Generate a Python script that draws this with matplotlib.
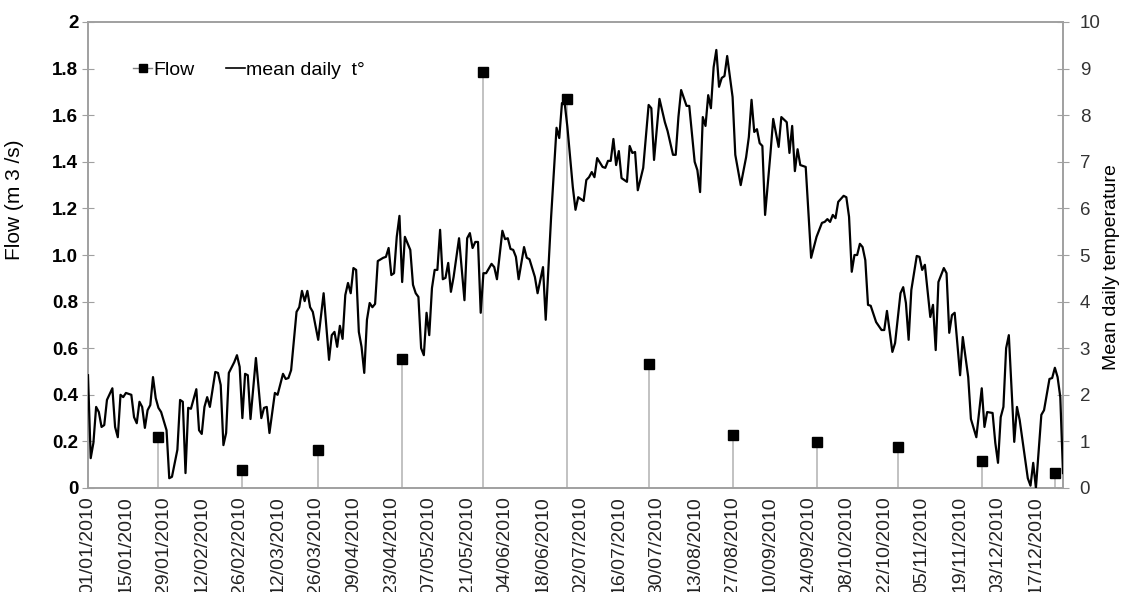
import matplotlib
matplotlib.use("Agg")
import matplotlib.pyplot as plt
from matplotlib.lines import Line2D
import pandas as pd

plt.rcParams['font.family'] = ['Liberation Sans', 'DejaVu Sans']

# ---------------- data ----------------
start_date = "01/01/2010"
end_date = "27/12/2010"

flow_dates = ["27/01/2010", "27/02/2010", "27/03/2010", "27/04/2010", "27/05/2010",
              "27/06/2010", "27/07/2010", "27/08/2010", "27/09/2010", "27/10/2010",
              "27/11/2010", "24/12/2010"]
flow_values = [0.22, 0.077, 0.163, 0.555, 1.785, 1.67, 0.533, 0.228, 0.198, 0.176,
               0.116, 0.065]

# day offset from 01/01/2010 and mean daily temperature (°C)
temp_day = [0, 1, 2, 3, 4, 5, 6, 7, 9, 10, 11, 12, 13, 14, 16, 17, 18, 19, 20, 21,
            22, 23, 24, 25, 26, 27, 29, 30, 31, 33, 34, 35, 36, 37, 38, 40, 41, 42,
            43, 44, 45, 47, 48, 49, 50, 51, 52, 54, 55, 56, 57, 58, 59, 60, 62, 64,
            65, 66, 67, 69, 70, 72, 73, 74, 75, 77, 78, 79, 80, 81, 82, 83, 85, 87,
            89, 90, 91, 92, 93, 94, 95, 96, 97, 98, 99, 100, 101, 102, 103, 104, 105,
            106, 107, 109, 110, 111, 112, 113, 114, 115, 116, 117, 119, 120, 121,
            122, 123, 124, 125, 126, 127, 128, 129, 130, 131, 132, 133, 134, 135,
            137, 139, 140, 141, 142, 143, 144, 145, 146, 147, 149, 150, 151, 153,
            154, 155, 156, 157, 158, 159, 161, 162, 163, 165, 166, 168, 169, 171,
            173, 174, 175, 176, 177, 179, 180, 181, 183, 184, 185, 186, 187, 188,
            190, 191, 192, 193, 194, 195, 196, 197, 199, 200, 201, 202, 203, 205,
            207, 208, 209, 211, 213, 214, 216, 217, 218, 219, 221, 222, 224, 225,
            226, 227, 228, 229, 230, 231, 232, 233, 234, 235, 236, 238, 239, 241,
            243, 244, 245, 246, 247, 248, 249, 250, 252, 253, 255, 256, 258, 259,
            260, 261, 262, 263, 265, 267, 269, 271, 272, 273, 274, 275, 276, 277,
            279, 280, 281, 282, 283, 284, 285, 286, 287, 288, 289, 291, 293, 294, 295,
            297, 298, 300, 301, 302, 303, 304, 306, 307, 308, 309, 311, 312, 313,
            314, 316, 317, 318, 319, 320, 322, 323, 325, 326, 328, 330, 331, 332,
            334, 335, 336, 337, 338, 339, 340, 342, 343, 344, 347, 348, 349, 350,
            352, 353, 355, 356, 357, 358, 359, 360]
temp_value = [2.42, 0.64, 0.97, 1.74, 1.63, 1.31, 1.35, 1.89, 2.14, 1.31, 1.09, 2.0,
              1.95, 2.04, 2.0, 1.52, 1.39, 1.85, 1.74, 1.29, 1.67, 1.78, 2.38, 1.93,
              1.72, 1.63, 1.24, 0.21, 0.24, 0.82, 1.89, 1.85, 0.32, 1.72, 1.70, 2.12,
              1.24, 1.16, 1.74, 1.95, 1.74, 2.49, 2.47, 2.21, 0.92, 1.18, 2.47, 2.70,
              2.85, 2.60, 1.50, 2.45, 2.42, 1.48, 2.79, 1.50, 1.72, 1.74, 1.18, 2.04,
              2.0, 2.45, 2.34, 2.36, 2.53, 3.78, 3.88, 4.23, 4.01, 4.23, 3.88, 3.78,
              3.18, 4.18, 2.75, 3.28, 3.35, 3.03, 3.48, 3.20, 4.14, 4.40, 4.18, 4.72,
              4.68, 3.35, 3.03, 2.47, 3.61, 3.97, 3.88, 3.95, 4.87, 4.94, 4.96, 5.15,
              4.57, 4.61, 5.39, 5.84, 4.42, 5.39, 5.11, 4.36, 4.18, 4.10, 3.00, 2.85,
              3.76, 3.28, 4.29, 4.68, 4.68, 5.54, 4.48, 4.51, 4.83, 4.21, 4.53, 5.36,
              4.03, 5.36, 5.47, 5.15, 5.28, 5.28, 3.76, 4.61, 4.61, 4.81, 4.74, 4.48,
              5.52, 5.34, 5.36, 5.13, 5.11, 4.96, 4.48, 5.17, 4.94, 4.91, 4.53, 4.18,
              4.74, 3.61, 5.82, 7.73, 7.51, 8.26, 8.26, 7.75, 6.46, 5.97, 6.24, 6.16,
              6.61, 6.67, 6.78, 6.67, 7.08, 6.89, 6.87, 7.02, 7.02, 7.49, 6.93, 7.23,
              6.65, 6.57, 7.34, 7.19, 7.21, 6.39, 6.87, 8.22, 8.15, 7.04, 8.35, 7.85,
              7.66, 7.15, 7.15, 7.96, 8.54, 8.20, 8.20, 7.00, 6.82, 6.35, 7.96, 7.77,
              8.43, 8.15, 9.03, 9.40, 8.61, 8.80, 8.84, 9.27, 8.39, 7.15, 6.50, 7.10,
              7.53, 8.33, 7.64, 7.70, 7.40, 7.34, 5.86, 7.19, 7.92, 7.32, 7.96, 7.85,
              7.19, 7.77, 6.80, 7.27, 6.93, 6.89, 4.94, 5.39, 5.69, 5.71, 5.77, 5.71,
              5.86, 5.79, 6.14, 6.27, 6.24, 5.82, 4.64, 5.00, 5.00, 5.24, 5.17, 4.89,
              3.93, 3.91, 3.56, 3.39, 3.39, 3.80, 2.92, 3.11, 4.18, 4.31, 3.97, 3.18,
              4.25, 4.98, 4.96, 4.68, 4.79, 3.67, 3.93, 2.96, 4.42, 4.72, 4.61, 3.33,
              3.71, 3.76, 2.42, 3.24, 2.38, 1.48, 1.09, 2.14, 1.31, 1.63, 1.61, 0.97,
              0.54, 1.52, 1.74, 3.00, 3.28, 0.99, 1.74, 1.46, 0.21, 0.05, 0.54, 0.0,
              1.57, 1.67, 2.34, 2.36, 2.58, 2.38, 1.95, 0.32]

x_tick_labels = ["01/01/2010", "15/01/2010", "29/01/2010", "12/02/2010", "26/02/2010",
                 "12/03/2010", "26/03/2010", "09/04/2010", "23/04/2010", "07/05/2010",
                 "21/05/2010", "04/06/2010", "18/06/2010", "02/07/2010", "16/07/2010",
                 "30/07/2010", "13/08/2010", "27/08/2010", "10/09/2010", "24/09/2010",
                 "08/10/2010", "22/10/2010", "05/11/2010", "19/11/2010", "03/12/2010",
                 "17/12/2010"]
flow_ticks = [0, 0.2, 0.4, 0.6, 0.8, 1.0, 1.2, 1.4, 1.6, 1.8, 2]
flow_tick_labels = ["0", "0.2", "0.4", "0.6", "0.8", "1.0", "1.2", "1.4", "1.6", "1.8", "2"]
temp_ticks = [0, 1, 2, 3, 4, 5, 6, 7, 8, 9, 10]

# ---------------- helpers ----------------
t0 = pd.to_datetime(start_date, dayfirst=True)


def day_of(s):
    return (pd.to_datetime(s, dayfirst=True) - t0).days


flow_x = [day_of(d) for d in flow_dates]
xtick_pos = [day_of(d) for d in x_tick_labels]
x_end = day_of(end_date)

# ---------------- figure ----------------
W, H = 1123, 592
fig = plt.figure(figsize=(W / 100, H / 100), dpi=100)
ax = fig.add_axes([88 / W, 1 - 488 / H, (1063 - 88) / W, (488 - 22) / H])
ax2 = ax.twinx()

spine_col = "#a0a0a0"
fs = 13.5

# flow (left axis)
ax.vlines(flow_x, 0, flow_values, color="#bdbdbd", lw=1.3, zorder=2)
ax.plot(flow_x, flow_values, ls="none", marker="s", ms=6.5, color="black", zorder=3)
ax.set_ylim(0, 2)
ax.set_xlim(0, x_end)
ax.set_yticks(flow_ticks)
ax.set_yticklabels(flow_tick_labels, fontsize=fs, fontweight="bold")
ax.set_xticks(xtick_pos)
ax.set_xticklabels(x_tick_labels, rotation=90, fontsize=14, color="#222222")
ax.tick_params(axis="x", length=0, pad=6)
ax.tick_params(axis="y", direction="inout", length=8, color=spine_col, pad=3)

# temperature (right axis)
ax2.plot(temp_day, temp_value, color="black", lw=1.6, zorder=4, clip_on=True)
ax2.set_ylim(0, 10)
ax2.set_yticks(temp_ticks)
ax2.set_yticklabels([str(t) for t in temp_ticks], fontsize=fs, color="#333333")
ax2.tick_params(axis="y", direction="inout", length=8, color=spine_col, pad=8)

# axis titles
fig.text(15 / W, 1 - 200 / H, "Flow (m 3 /s)", rotation=90, ha="center", va="center",
         fontsize=15)
fig.text(1112 / W, 1 - 267 / H, "Mean daily temperature", rotation=90, ha="center",
         va="center", fontsize=14)

for a in (ax, ax2):
    for s in a.spines.values():
        s.set_color(spine_col)
        s.set_linewidth(1.2)

# legend
handles = [
    Line2D([0], [0], color="#808080", lw=1, marker="s", ms=6, mfc="black", mec="black"),
    Line2D([0], [0], color="black", lw=1.2),
]
fig.legend(handles, ["Flow", "mean daily  t°"], loc="center left",
           bbox_to_anchor=(133 / W, 1 - 70 / H), frameon=False, ncol=2,
           fontsize=14, handlelength=1.0, handletextpad=0.05, columnspacing=1.6,
           borderpad=0, borderaxespad=0)

fig.savefig("out.png", dpi=100)
